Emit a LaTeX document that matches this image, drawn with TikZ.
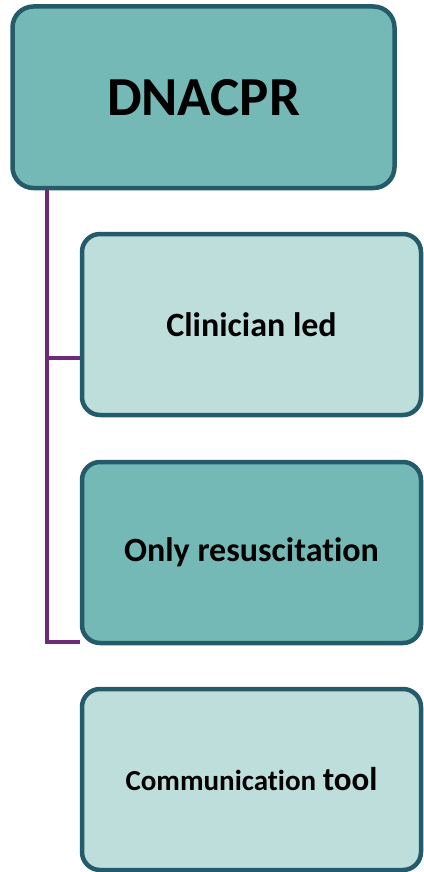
\documentclass[tikz,border=0pt]{standalone}
\usepackage{fontspec}
\setmainfont{Carlito}[Ligatures={NoCommon,NoRare}]
\usepackage{tikz}
\definecolor{dnaEdge}{HTML}{235B6A}
\definecolor{dnaDark}{HTML}{75B9B6}
\definecolor{dnaLight}{HTML}{BEDEDC}
\definecolor{dnaLink}{HTML}{6D2B77}

\begin{document}
\begin{tikzpicture}[
    x=1pt, y=-1pt,
    card/.style={rectangle, draw=dnaEdge, line width=4.5pt, rounded corners=18pt, minimum width=339pt, minimum height=181pt, font=\bfseries\fontsize{34}{40}\selectfont},
    link/.style={draw=dnaLink, line width=4pt}
]
\useasboundingbox (0,0) rectangle (423,872);

\node[card, fill=dnaDark, rounded corners=21pt, minimum width=382pt, minimum height=181.5pt, font=\bfseries\fontsize{55}{60}\selectfont] (dnacpr) at (203.5,97.25) {DNACPR};
\node[card, fill=dnaLight] (clinician) at (251.5,324.5) {Clinician led};
\node[card, fill=dnaDark] (resus) at (251.5,552.5) {Only resuscitation};
\node[card, fill=dnaLight] (tool) at (251.5,779.5) {\fontsize{29}{40}\selectfont Communication \fontsize{33}{40}\selectfont tool};

\coordinate (tap1) at (47,358);
\coordinate (tap2) at (47,642);

\draw[link] (dnacpr.south -| tap1) -- (tap2) -- (tap2 -| resus.west);
\draw[link] (tap1) -- (tap1 -| clinician.west);

\end{tikzpicture}
\end{document}
